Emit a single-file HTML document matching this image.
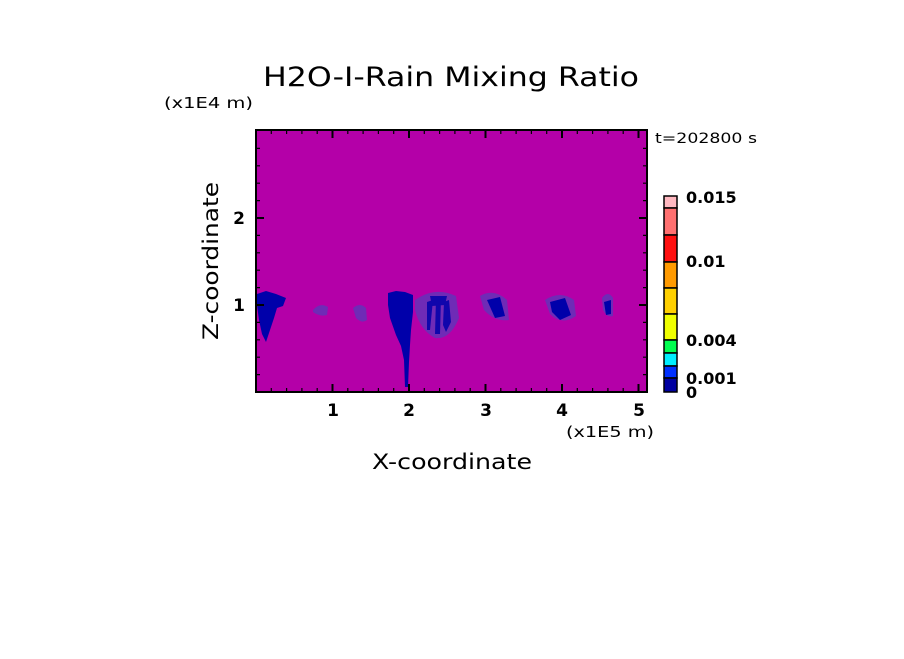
<!DOCTYPE html>
<html><head><meta charset="utf-8"><style>
html,body{margin:0;padding:0;background:#fff;}
svg text{font-family:"DejaVu Sans","Liberation Sans",sans-serif;}
</style></head><body>
<svg width="904" height="654" viewBox="0 0 904 654" xmlns="http://www.w3.org/2000/svg">
<rect width="904" height="654" fill="#fff"/>
<text x="451" y="86" font-size="27" text-anchor="middle" fill="#000" textLength="376" lengthAdjust="spacingAndGlyphs">H2O-I-Rain Mixing Ratio</text>
<text x="164" y="108" font-size="15" fill="#000" textLength="89" lengthAdjust="spacingAndGlyphs">(x1E4 m)</text>
<rect x="256" y="130" width="391" height="262" fill="#b400a8"/>
<g fill="#6830b8" opacity="0.9">
<path d="M313,310 Q320,302 328,307 L327,315 Q320,317 313,312Z"/>
<path d="M353,308 Q360,302 366,308 L367,320 Q362,324 356,318Z"/>
<path d="M415,300 Q435,286 456,296 L459,318 Q450,340 435,338 Q420,330 415,310Z"/>
<path d="M480,296 Q494,288 507,300 L509,320 Q495,322 484,310Z"/>
<path d="M545,300 Q560,290 574,300 L576,316 Q562,326 550,314Z"/>
<path d="M602,298 Q608,290 613,298 L613,316 Q607,318 603,310Z"/>
</g>
<g fill="#0000aa">
<path d="M257,294 L266,291 L276,294 L286,298 L283,306 L277,308 L274,318 L270,330 L266,342 L262,334 L259,320 L257,305Z"/>
<path d="M388,293 L396,291 L405,292 L413,295 L413,312 L411,330 L410,345 L409,362 L408,387 L405,387 L404,360 L401,346 L396,335 L390,318 L388,305Z"/>
<path d="M427,302 L433,300 L430,330 L427,330Z M436,298 L441,298 L440,334 L435,334Z M444,302 L449,300 L451,322 L446,332 L443,325Z M430,296 L447,296 L445,305 L432,306Z" opacity="0.85"/>
<path d="M487,300 L500,297 L505,316 L495,318 Z"/>
<path d="M550,302 L565,298 L571,315 L560,320 L552,312Z"/>
<path d="M604,302 L611,300 L611,314 L606,315Z"/>
</g>
<rect x="256" y="130" width="391" height="262" fill="none" stroke="#000" stroke-width="2"/>
<g stroke="#000" stroke-width="1.2">
<path d="M271.3,392v-4M286.6,392v-4M301.9,392v-4M317.2,392v-4M347.8,392v-4M363.1,392v-4M378.4,392v-4M393.7,392v-4M424.3,392v-4M439.6,392v-4M454.9,392v-4M470.2,392v-4M500.8,392v-4M516.1,392v-4M531.4,392v-4M546.7,392v-4M577.3,392v-4M592.6,392v-4M607.9,392v-4M623.2,392v-4"/>
<path d="M271.3,130v4M286.6,130v4M301.9,130v4M317.2,130v4M347.8,130v4M363.1,130v4M378.4,130v4M393.7,130v4M424.3,130v4M439.6,130v4M454.9,130v4M470.2,130v4M500.8,130v4M516.1,130v4M531.4,130v4M546.7,130v4M577.3,130v4M592.6,130v4M607.9,130v4M623.2,130v4"/>
<path stroke-width="2" d="M332.5,392v-8M409,392v-8M485.5,392v-8M562,392v-8M638.5,392v-8M332.5,130v8M409,130v8M485.5,130v8M562,130v8M638.5,130v8"/>
<path d="M256,374.6h4M256,357.2h4M256,339.8h4M256,322.4h4M256,287.6h4M256,270.2h4M256,252.8h4M256,235.4h4M256,200.6h4M256,183.2h4M256,165.8h4M256,148.4h4"/>
<path d="M647,374.6h-4M647,357.2h-4M647,339.8h-4M647,322.4h-4M647,287.6h-4M647,270.2h-4M647,252.8h-4M647,235.4h-4M647,200.6h-4M647,183.2h-4M647,165.8h-4M647,148.4h-4"/>
<path stroke-width="2" d="M256,305h8M256,218h8M647,305h-8M647,218h-8"/>
</g>
<g font-size="17" font-weight="bold" fill="#000" text-anchor="middle">
<text x="333" y="416">1</text><text x="409" y="416">2</text><text x="486" y="416">3</text><text x="562" y="416">4</text><text x="639" y="416">5</text>
<text x="239" y="224">2</text><text x="239" y="311">1</text>
</g>
<text x="566" y="437" font-size="15" fill="#000" textLength="88" lengthAdjust="spacingAndGlyphs">(x1E5 m)</text>
<text x="452" y="469" font-size="21" text-anchor="middle" fill="#000" textLength="160" lengthAdjust="spacingAndGlyphs">X-coordinate</text>
<text transform="translate(218,261) rotate(-90)" font-size="21" text-anchor="middle" fill="#000" textLength="158" lengthAdjust="spacingAndGlyphs">Z-coordinate</text>
<text x="655" y="143" font-size="14" fill="#000" textLength="102" lengthAdjust="spacingAndGlyphs">t=202800 s</text>
<g stroke="#000" stroke-width="1.5">
<rect x="664" y="196" width="13" height="12" fill="#ffb8c0"/>
<rect x="664" y="208" width="13" height="27" fill="#ff7070"/>
<rect x="664" y="235" width="13" height="27" fill="#ff1010"/>
<rect x="664" y="262" width="13" height="26" fill="#ff9a00"/>
<rect x="664" y="288" width="13" height="26" fill="#ffd000"/>
<rect x="664" y="314" width="13" height="26" fill="#f0ff00"/>
<rect x="664" y="340" width="13" height="13" fill="#00ff50"/>
<rect x="664" y="353" width="13" height="13" fill="#00eeff"/>
<rect x="664" y="366" width="13" height="12" fill="#0030ff"/>
<rect x="664" y="378" width="13" height="14" fill="#0000a0"/>
</g>
<g font-size="16" font-weight="bold" fill="#000">
<text x="686" y="203">0.015</text>
<text x="686" y="267">0.01</text>
<text x="686" y="346">0.004</text>
<text x="686" y="384">0.001</text>
<text x="686" y="398">0</text>
</g>
</svg>
</body></html>
